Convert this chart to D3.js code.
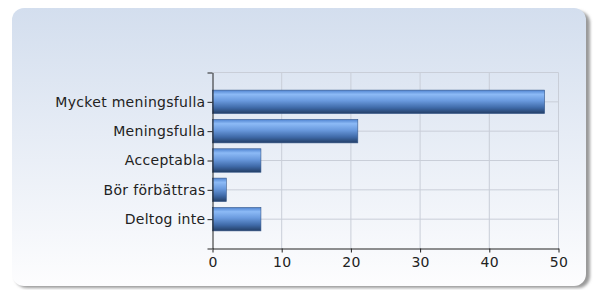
<!DOCTYPE html>
<html>
	<head>
		<meta charset="utf-8">
		<style>
		body {
			margin: 0;
			background: #fff;
		}

		svg {
			display: block;
		}

		.axis text {
			fill: #222;
			letter-spacing: 0.3px;
		}

		.axis path, .axis line {
			stroke: #222;
		}

		.grid line {
			stroke: #c9ced8;
			stroke-width: 1px;
		}
		</style>
		<script src="https://d3js.org/d3.v7.min.js"></script>
	</head>
	<body>
		<svg id="chart" width="594" height="290"></svg>

		<script>
		var categories = ['Mycket meningsfulla', 'Meningsfulla', 'Acceptabla', 'Bör förbättras', 'Deltog inte'];
		var counts = [48, 21, 7, 2, 7];
		var xTicks = [0, 10, 20, 30, 40, 50];

		var svg = d3.select('#chart');
		var defs = svg.append('defs');

		var bg = defs.append('linearGradient')
			.attr('id', 'bg').attr('x1', 0).attr('y1', 0).attr('x2', 0).attr('y2', 1);
		bg.append('stop').attr('offset', '0%').attr('stop-color', '#d3deee');
		bg.append('stop').attr('offset', '100%').attr('stop-color', '#fdfdfe');

		var barGrad = defs.append('linearGradient')
			.attr('id', 'bar').attr('x1', 0).attr('y1', 0).attr('x2', 0).attr('y2', 1);
		barGrad.append('stop').attr('offset', '0%').attr('stop-color', '#4f83d0');
		barGrad.append('stop').attr('offset', '18%').attr('stop-color', '#8cbaf6');
		barGrad.append('stop').attr('offset', '45%').attr('stop-color', '#6a9ade');
		barGrad.append('stop').attr('offset', '75%').attr('stop-color', '#3f6aa8');
		barGrad.append('stop').attr('offset', '100%').attr('stop-color', '#233e66');

		var blur = defs.append('filter').attr('id', 'shadow')
			.attr('x', '-5%').attr('y', '-5%').attr('width', '110%').attr('height', '110%');
		blur.append('feGaussianBlur').attr('stdDeviation', 1.5);

		// panel with drop shadow
		svg.append('rect')
			.attr('x', 15).attr('y', 11).attr('width', 575).attr('height', 277).attr('rx', 12)
			.attr('fill', '#9a9a9a').attr('filter', 'url(#shadow)');
		svg.append('rect')
			.attr('x', 12).attr('y', 8).attr('width', 574).attr('height', 278).attr('rx', 12)
			.attr('fill', 'url(#bg)');

		var plot = { left: 212.5, right: 558.5, top: 72.5, bottom: 248.5 };

		var x = d3.scaleLinear().domain([0, 50]).range([plot.left, plot.right]);
		var y = d3.scaleLinear().domain([0, categories.length + 1]).range([plot.top, plot.bottom]);
		var step = y(1) - y(0);

		// grid
		var grid = svg.append('g').attr('class', 'grid');
		grid.selectAll('.v').data(xTicks.slice(1)).enter().append('line')
			.attr('x1', function (d) { return x(d); }).attr('x2', function (d) { return x(d); })
			.attr('y1', plot.top).attr('y2', plot.bottom);
		grid.selectAll('.h').data(d3.range(0, categories.length + 1)).enter().append('line')
			.attr('x1', plot.left).attr('x2', plot.right)
			.attr('y1', function (d) { return y(d); }).attr('y2', function (d) { return y(d); });

		// bars
		var barH = step * 0.8;
		svg.append('g').selectAll('rect').data(counts).enter().append('rect')
			.attr('x', x(0))
			.attr('y', function (d, i) { return y(i + 1) - barH / 2; })
			.attr('width', function (d) { return x(d) - x(0); })
			.attr('height', barH)
			.attr('fill', 'url(#bar)')
			.attr('stroke', '#38598a')
			.attr('stroke-width', 0.6);

		// axes
		var leftAxis = d3.axisLeft(y)
			.tickValues(d3.range(0, categories.length + 2))
			.tickSize(5).tickSizeOuter(0)
			.tickFormat(function (d) { return categories[d - 1] || ''; });
		svg.append('g').attr('class', 'axis')
			.attr('transform', 'translate(' + plot.left + ',0)')
			.call(leftAxis)
			.attr('font-family', '"DejaVu Sans", Verdana, sans-serif')
			.attr('font-size', 14)
			.call(function (g) { g.selectAll('text').attr('x', -7); });

		var bottomAxis = d3.axisBottom(x).tickValues(xTicks).tickSize(4).tickSizeOuter(0);
		svg.append('g').attr('class', 'axis')
			.attr('transform', 'translate(0,' + plot.bottom + ')')
			.call(bottomAxis)
			.attr('font-family', '"DejaVu Sans", Verdana, sans-serif')
			.attr('font-size', 14)
			.call(function (g) { g.selectAll('text').attr('y', 9); });
		</script>
	</body>
</html>
